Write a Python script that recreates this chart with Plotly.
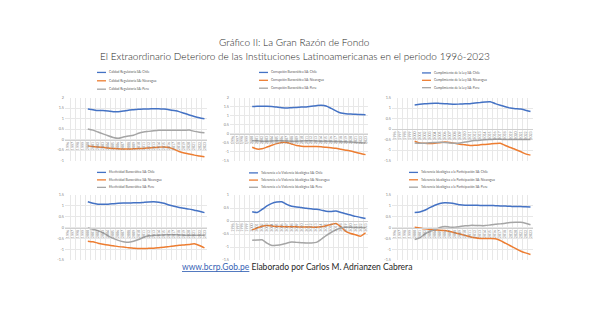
import plotly.graph_objects as go

# ---------------- DATA ----------------
years = [str(y) for y in range(1996, 2024)]
data_years = [str(y) for y in range(2000, 2024)]
countries = ["Chile", "Nicaragua", "Peru"]

indicators = [
    "Calidad Regulatoria",
    "Corrupción Burocrática",
    "Cumplimiento de la Ley",
    "Efectividad Burocrática",
    "Tolerancia a la Violencia Ideológica",
    "Tolerancia Ideológica a la Participación",
]

calidad_chile = [1.46, 1.42, 1.38, 1.38, 1.36, 1.33, 1.33, 1.36, 1.40, 1.42, 1.44, 1.46,
                 1.46, 1.47, 1.47, 1.45, 1.42, 1.38, 1.33, 1.25, 1.17, 1.10, 1.04, 0.99]
calidad_nicaragua = [-0.30, -0.33, -0.35, -0.37, -0.40, -0.42, -0.44, -0.45, -0.45, -0.44, -0.43, -0.42,
                     -0.40, -0.38, -0.36, -0.35, -0.38, -0.46, -0.57, -0.64, -0.69, -0.74, -0.78, -0.82]
calidad_peru = [0.50, 0.45, 0.36, 0.27, 0.18, 0.10, 0.06, 0.12, 0.17, 0.21, 0.30, 0.36,
                0.39, 0.42, 0.44, 0.44, 0.44, 0.44, 0.44, 0.44, 0.45, 0.39, 0.35, 0.32]

corrupcion_chile = [1.50, 1.51, 1.51, 1.51, 1.50, 1.47, 1.44, 1.42, 1.44, 1.45, 1.47, 1.48,
                    1.52, 1.55, 1.57, 1.53, 1.40, 1.26, 1.14, 1.10, 1.08, 1.07, 1.06, 1.05]
corrupcion_nicaragua = [-0.76, -0.86, -0.84, -0.75, -0.65, -0.56, -0.49, -0.50, -0.58, -0.66, -0.70, -0.72,
                        -0.72, -0.72, -0.73, -0.76, -0.79, -0.82, -0.87, -0.92, -0.97, -1.04, -1.11, -1.17]
corrupcion_peru = [-0.40, -0.40, -0.42, -0.42, -0.41, -0.40, -0.40, -0.41, -0.42, -0.42, -0.41, -0.40,
                   -0.40, -0.41, -0.42, -0.42, -0.43, -0.44, -0.45, -0.46, -0.47, -0.49, -0.51, -0.52]

cumplimiento_chile = [1.15, 1.18, 1.20, 1.22, 1.23, 1.22, 1.21, 1.19, 1.18, 1.19, 1.20, 1.21,
                      1.24, 1.26, 1.29, 1.30, 1.21, 1.13, 1.06, 1.00, 0.97, 0.95, 0.90, 0.84]
cumplimiento_nicaragua = [-0.58, -0.66, -0.68, -0.69, -0.68, -0.65, -0.62, -0.64, -0.68, -0.72, -0.75, -0.78,
                          -0.77, -0.75, -0.73, -0.71, -0.69, -0.68, -0.78, -0.88, -0.97, -1.07, -1.18, -1.24]
cumplimiento_peru = [-0.66, -0.68, -0.67, -0.65, -0.64, -0.63, -0.64, -0.66, -0.68, -0.66, -0.62, -0.58,
                     -0.55, -0.53, -0.51, -0.50, -0.49, -0.49, -0.50, -0.50, -0.50, -0.50, -0.50, -0.50]

efectividad_chile = [1.19, 1.12, 1.08, 1.08, 1.08, 1.10, 1.12, 1.13, 1.13, 1.14, 1.14, 1.16,
                     1.18, 1.19, 1.17, 1.12, 1.04, 0.98, 0.93, 0.89, 0.85, 0.80, 0.75, 0.69]
efectividad_nicaragua = [-0.63, -0.66, -0.72, -0.77, -0.81, -0.84, -0.88, -0.90, -0.93, -0.95, -0.97, -0.97,
                         -0.96, -0.95, -0.93, -0.91, -0.88, -0.85, -0.82, -0.80, -0.78, -0.75, -0.83, -0.94]
efectividad_peru = [-0.02, -0.08, -0.15, -0.24, -0.38, -0.50, -0.59, -0.65, -0.68, -0.63, -0.55, -0.45,
                    -0.38, -0.36, -0.35, -0.34, -0.33, -0.33, -0.34, -0.35, -0.36, -0.36, -0.36, -0.36]

violencia_chile = [0.36, 0.33, 0.45, 0.58, 0.68, 0.73, 0.74, 0.64, 0.57, 0.54, 0.52, 0.49,
                   0.47, 0.45, 0.42, 0.38, 0.37, 0.39, 0.33, 0.28, 0.23, 0.18, 0.14, 0.10]
violencia_nicaragua = [-0.34, -0.27, -0.20, -0.17, -0.19, -0.21, -0.21, -0.22, -0.22, -0.22, -0.23, -0.23,
                       -0.23, -0.24, -0.22, -0.18, -0.13, -0.09, -0.22, -0.40, -0.48, -0.53, -0.58, -0.45]
violencia_peru = [-0.74, -0.73, -0.72, -0.85, -0.94, -0.93, -0.90, -0.85, -0.81, -0.82, -0.83, -0.84,
                  -0.84, -0.82, -0.70, -0.56, -0.44, -0.34, -0.27, -0.24, -0.24, -0.25, -0.25, -0.26]

participacion_chile = [0.70, 0.72, 0.80, 0.92, 1.03, 1.11, 1.14, 1.13, 1.10, 1.05, 1.03, 1.03,
                       1.03, 1.02, 1.02, 1.02, 1.01, 1.00, 0.99, 0.98, 0.97, 0.97, 0.96, 0.95]
participacion_nicaragua = [0.02, -0.02, -0.06, -0.09, -0.11, -0.12, -0.14, -0.18, -0.24, -0.30, -0.36, -0.42,
                           -0.47, -0.50, -0.51, -0.51, -0.52, -0.60, -0.72, -0.84, -0.96, -1.08, -1.17, -1.24]
participacion_peru = [-0.55, -0.48, -0.30, -0.18, -0.10, 0.00, 0.05, 0.02, 0.02, 0.05, 0.08, 0.10,
                      0.10, 0.09, 0.09, 0.12, 0.15, 0.17, 0.20, 0.23, 0.24, 0.24, 0.20, 0.13]

panel_series = [
    [calidad_chile, calidad_nicaragua, calidad_peru],
    [corrupcion_chile, corrupcion_nicaragua, corrupcion_peru],
    [cumplimiento_chile, cumplimiento_nicaragua, cumplimiento_peru],
    [efectividad_chile, efectividad_nicaragua, efectividad_peru],
    [violencia_chile, violencia_nicaragua, violencia_peru],
    [participacion_chile, participacion_nicaragua, participacion_peru],
]

ytick_vals = [
    [-1, -0.5, 0, 0.5, 1, 1.5, 2],
    [-1.5, -1, -0.5, 0, 0.5, 1, 1.5, 2],
    [-1.5, -1, -0.5, 0, 0.5, 1, 1.5],
    [-1.5, -1, -0.5, 0, 0.5, 1, 1.5],
    [-1.5, -1, -0.5, 0, 0.5, 1],
    [-1.5, -1, -0.5, 0, 0.5, 1, 1.5],
]
ytick_text = [[("%g" % v) for v in vals] for vals in ytick_vals]

title_1 = "Gráfico II: La Gran Razón de Fondo"
title_2 = "El Extraordinario Deterioro de las Instituciones Latinoamericanas en el periodo 1996-2023"
footer_link = "www.bcrp.Gob.pe"
footer_text = "Elaborado por Carlos M. Adrianzen Cabrera"

# ---------------- STYLE / LAYOUT ----------------
W, H = 589, 331
colors = ["#4472C4", "#ED7D31", "#A5A5A5"]
col_px = [(65, 207), (230, 368), (392, 533)]
row_px = [(96, 160), (195, 261)]
legend_px = [  # sample-start x, first entry y, spacing
    (97, 70.5, 8.5), (259, 70.5, 8), (422, 71, 7.5),
    (97, 172, 7.6), (249, 172.5, 7.3), (409, 172, 7.5),
]

def fx(px):
    return px / W

def fy(py):
    return 1 - py / H

fig = go.Figure()
shapes = []
annotations = []
layout_axes = {}

for k in range(6):
    r, c = divmod(k, 3)
    ax = "" if k == 0 else str(k + 1)
    x0, x1 = col_px[c]
    ytop, ybot = row_px[r]
    ydom = [fy(ybot), fy(ytop)]
    lo, hi = ytick_vals[k][0], ytick_vals[k][-1]
    zero_pos = ydom[0] + (0 - lo) / (hi - lo) * (ydom[1] - ydom[0])

    for s, series in enumerate(panel_series[k]):
        fig.add_trace(go.Scatter(
            x=data_years, y=series, mode="lines",
            name=f"{indicators[k]} SA: {countries[s]}",
            line=dict(color=colors[s], width=1.5, shape="spline", smoothing=0.6),
            xaxis="x" + ax, yaxis="y" + ax, showlegend=False, hoverinfo="skip",
        ))

    layout_axes["xaxis" + ax] = dict(
        domain=[fx(x0), fx(x1)], type="category", categoryorder="array",
        categoryarray=years, range=[-0.5, len(years) - 0.5],
        anchor="free", position=zero_pos,
        tickmode="array", tickvals=years, ticktext=years, tickson="boundaries",
        tickangle=-90, tickfont=dict(size=3.6, color="#7F7F7F"),
        showgrid=True, gridcolor="#E8E8E8", gridwidth=0.5,
        showline=True, linecolor="#D0D0D0", linewidth=0.7, ticks="",
        zeroline=False, fixedrange=True,
    )
    layout_axes["yaxis" + ax] = dict(
        domain=ydom, range=[lo, hi], anchor="x" + ax,
        tickmode="array", tickvals=ytick_vals[k], ticktext=ytick_text[k],
        tickfont=dict(size=3.8, color="#7F7F7F"),
        showgrid=True, gridcolor="#E8E8E8", gridwidth=0.5,
        zeroline=False, showline=False, ticks="", fixedrange=True,
    )

    lx, ly, dy = legend_px[k]
    for s in range(3):
        yy = ly + s * dy
        shapes.append(dict(type="line", xref="paper", yref="paper",
                           x0=fx(lx), x1=fx(lx + 9), y0=fy(yy), y1=fy(yy),
                           line=dict(color=colors[s], width=1.3)))
        annotations.append(dict(
            x=fx(lx + 10), y=fy(yy), xref="paper", yref="paper",
            xanchor="left", yanchor="middle", showarrow=False,
            text=f"{indicators[k]} SA: {countries[s]}",
            font=dict(size=3.2, color="#595959"),
        ))

title_font = dict(size=10, color="#262626", family="Lato", weight=300)
annotations.append(dict(x=fx(294), y=fy(31), xref="paper", yref="paper",
                        showarrow=False, text=title_1, font=title_font))
annotations.append(dict(x=fx(294.5), y=fy(46), xref="paper", yref="paper",
                        showarrow=False, text=title_2, font=title_font))
annotations.append(dict(x=fx(297), y=fy(275), xref="paper", yref="paper",
                        showarrow=False,
                        text=f"<span style='color:#3763B5'><u>{footer_link}</u></span> {footer_text}",
                        font=dict(size=8.5, color="#262626", family="Lato")))

fig.update_layout(
    width=W, height=H, autosize=False,
    margin=dict(l=0, r=0, t=0, b=0),
    paper_bgcolor="white", plot_bgcolor="white",
    font=dict(family="Lato", color="#595959"),
    showlegend=False, hovermode=False,
    shapes=shapes, annotations=annotations,
    **layout_axes,
)

fig.write_html("out.html", config={"displayModeBar": False})
